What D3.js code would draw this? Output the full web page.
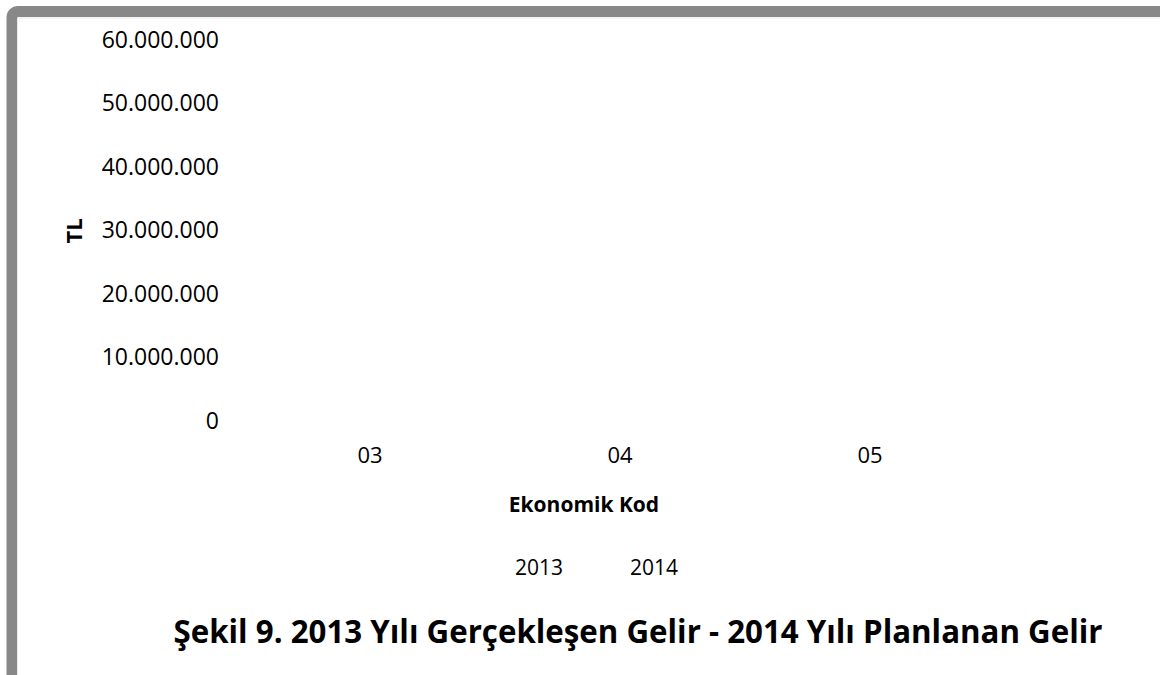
<!DOCTYPE html>
<meta charset="utf-8">
<head>
<script src="https://cdn.jsdelivr.net/npm/d3@7"></script>
<style>
  body { margin: 0; background: #fff; }
  text { font-family: "Open Sans", sans-serif; fill: #000; }
</style>
</head>
<body>
<svg id="chart" width="1160" height="675"></svg>
<script>
// data (bars not visible in the source figure, values unknown)
var kodlar = ["03", "04", "05"];
var yillar = ["2013", "2014"];
var gelir2013 = [null, null, null];
var gelir2014 = [null, null, null];
var yTicks = [0, 10000000, 20000000, 30000000, 40000000, 50000000, 60000000];

var tr = d3.formatLocale({decimal: ",", thousands: ".", grouping: [3], currency: ["", " TL"]});
var fmt = tr.format(",.0f");

var svg = d3.select("#chart");

// frame
svg.append("rect")
    .attr("x", 12).attr("y", 11.5)
    .attr("width", 1400).attr("height", 1000)
    .attr("rx", 6)
    .attr("fill", "#fff")
    .attr("stroke", "#888")
    .attr("stroke-width", 11);
svg.append("path")
    .attr("d", "M17.5,1000V18H1160")
    .attr("fill", "none")
    .attr("stroke", "#e8e8e8")
    .attr("stroke-width", 1);

var plotL = 245, plotR = 995, plotT = 40, plotB = 421;

var x = d3.scaleBand().domain(kodlar).range([plotL, plotR]);
var x1 = d3.scaleBand().domain(yillar).range([0, x.bandwidth()]).padding(0.1);
var y = d3.scaleLinear().domain([0, 60000000]).range([plotB, plotT]);

var yAxis = d3.axisLeft(y).tickValues(yTicks).tickSize(0).tickPadding(26).tickFormat(fmt);
var gy = svg.append("g").attr("transform", "translate(" + plotL + ",0)").call(yAxis);
gy.select(".domain").remove();
gy.selectAll("text").style("font-size", "23px").style("font-family", "Open Sans");

var xAxis = d3.axisBottom(x).tickSize(0).tickPadding(26);
var gx = svg.append("g").attr("transform", "translate(0," + plotB + ")").call(xAxis);
gx.select(".domain").remove();
gx.selectAll("text").style("font-size", "22px").style("font-family", "Open Sans");

// bars (none visible)
var rows = kodlar.map(function(k, i) {
  return {kod: k, vals: [{yil: "2013", v: gelir2013[i]}, {yil: "2014", v: gelir2014[i]}]};
});
svg.append("g").selectAll("g").data(rows).join("g")
    .attr("transform", function(d) { return "translate(" + x(d.kod) + ",0)"; })
  .selectAll("rect").data(function(d) { return d.vals.filter(function(e) { return e.v != null; }); })
  .join("rect")
    .attr("x", function(d) { return x1(d.yil); })
    .attr("width", x1.bandwidth())
    .attr("y", function(d) { return y(d.v); })
    .attr("height", function(d) { return plotB - y(d.v); })
    .attr("fill", "none");

// axis titles
svg.append("text")
    .attr("transform", "translate(74,231) rotate(-90)")
    .attr("text-anchor", "middle").attr("dy", "0.35em")
    .style("font-size", "22px").style("font-weight", "bold")
    .text("TL");

svg.append("text")
    .attr("x", 584).attr("y", 512)
    .attr("text-anchor", "middle")
    .style("font-size", "21px").style("font-weight", "bold")
    .text("Ekonomik Kod");

// legend
var legX = [539, 654];
svg.append("g").selectAll("text").data(yillar).join("text")
    .attr("x", function(d, i) { return legX[i]; })
    .attr("y", 575)
    .attr("text-anchor", "middle")
    .style("font-size", "21px")
    .text(function(d) { return d; });

// caption
svg.append("text")
    .attr("x", 638).attr("y", 643)
    .attr("text-anchor", "middle")
    .attr("textLength", 929).attr("lengthAdjust", "spacingAndGlyphs")
    .style("font-size", "33px").style("font-weight", "bold")
    .text("Şekil 9. 2013 Yılı Gerçekleşen Gelir - 2014 Yılı Planlanan Gelir");
</script>
</body>
